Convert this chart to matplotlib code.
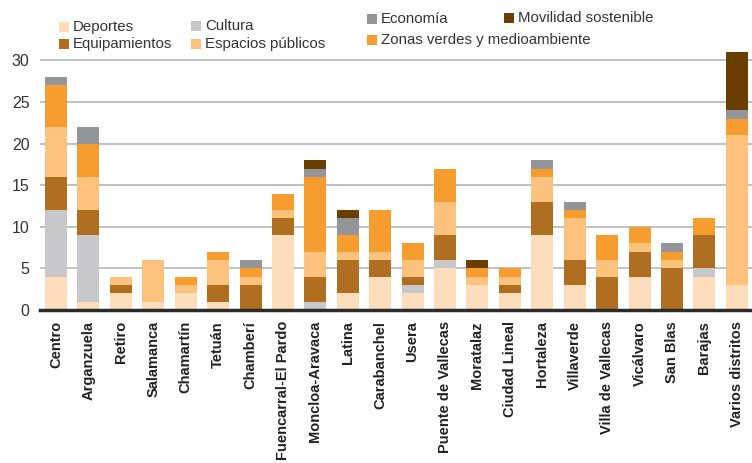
import numpy as np
import matplotlib
matplotlib.use("Agg")
import matplotlib.pyplot as plt
from matplotlib.patches import Rectangle

plt.rcParams['font.family'] = ['Liberation Sans', 'DejaVu Sans']

districts = ["Centro", "Arganzuela", "Retiro", "Salamanca", "Chamartín", "Tetuán",
             "Chamberí", "Fuencarral-El Pardo", "Moncloa-Aravaca", "Latina",
             "Carabanchel", "Usera", "Puente de Vallecas", "Moratalaz",
             "Ciudad Lineal", "Hortaleza", "Villaverde", "Villa de Vallecas",
             "Vicálvaro", "San Blas", "Barajas", "Varios distritos"]

# stacked from bottom to top
deportes      = [4, 1, 2, 1, 2, 1, 0, 9, 0, 2, 4, 2, 5, 3, 2, 9, 3, 0, 4, 0, 4, 3]
cultura       = [8, 8, 0, 0, 0, 0, 0, 0, 1, 0, 0, 1, 1, 0, 0, 0, 0, 0, 0, 0, 1, 0]
equipamientos = [4, 3, 1, 0, 0, 2, 3, 2, 3, 4, 2, 1, 3, 0, 1, 4, 3, 4, 3, 5, 4, 0]
espacios      = [6, 4, 1, 5, 1, 3, 1, 1, 3, 1, 1, 2, 4, 1, 1, 3, 5, 2, 1, 1, 0, 18]
zonas_verdes  = [5, 4, 0, 0, 1, 1, 1, 2, 9, 2, 5, 2, 4, 1, 1, 1, 1, 3, 2, 1, 2, 2]
economia      = [1, 2, 0, 0, 0, 0, 1, 0, 1, 2, 0, 0, 0, 0, 0, 1, 1, 0, 0, 1, 0, 1]
movilidad     = [0, 0, 0, 0, 0, 0, 0, 0, 1, 1, 0, 0, 0, 1, 0, 0, 0, 0, 0, 0, 0, 7]

series = [
    ("Deportes", deportes, "#FDDDBB"),
    ("Cultura", cultura, "#C8C8CA"),
    ("Equipamientos", equipamientos, "#B06F20"),
    ("Espacios públicos", espacios, "#FCC27E"),
    ("Zonas verdes y medioambiente", zonas_verdes, "#F79C2F"),
    ("Economía", economia, "#939598"),
    ("Movilidad sostenible", movilidad, "#6A3E00"),
]

fig = plt.figure(figsize=(7.52, 4.63), dpi=100)
ax = fig.add_axes([0.053, 0.3305, 0.947, 0.557])

x = np.arange(len(districts))
bottom = np.zeros(len(districts))
for name, vals, col in series:
    vals = np.array(vals, dtype=float)
    ax.bar(x, vals, width=0.68, bottom=bottom, color=col, zorder=3, linewidth=0)
    bottom += vals

ax.set_ylim(0, 31)
ax.set_xlim(-0.5, 21.47)
ax.set_yticks(range(0, 31, 5))
ax.yaxis.grid(True, color="#B5B5B5", linewidth=1.2, zorder=0)
for s in ["top", "right", "left"]:
    ax.spines[s].set_visible(False)
ax.spines["bottom"].set_color("#2B2B2B")
ax.spines["bottom"].set_linewidth(2.5)
ax.spines["bottom"].set_zorder(4)
ax.tick_params(axis="y", length=0, labelsize=11.5, labelcolor="#333333", pad=7.5)
ax.tick_params(axis="x", length=0, pad=8)
ax.set_xticks(x)
ax.set_xticklabels(districts, rotation=90, fontsize=10.5, fontweight="bold",
                   color="#222222")

# legend, placed by hand to mimic the original layout
legend_pos = [
    ("Deportes", "#FDDDBB", 59, 27),
    ("Equipamientos", "#B06F20", 59, 44),
    ("Cultura", "#C8C8CA", 191, 26),
    ("Espacios públicos", "#FCC27E", 191, 44),
    ("Economía", "#939598", 367, 19),
    ("Zonas verdes y medioambiente", "#F79C2F", 367, 40),
    ("Movilidad sostenible", "#6A3E00", 504, 18),
]
W, H = 752, 463
for label, col, px, py in legend_pos:
    fig.add_artist(Rectangle((px / W, 1 - (py + 5) / H), 10 / W, 10 / H,
                             transform=fig.transFigure, color=col, lw=0))
    fig.text((px + 14) / W, 1 - py / H, label, fontsize=10.8, color="#333333",
             va="center", ha="left")

fig.savefig("out.png", dpi=100)
